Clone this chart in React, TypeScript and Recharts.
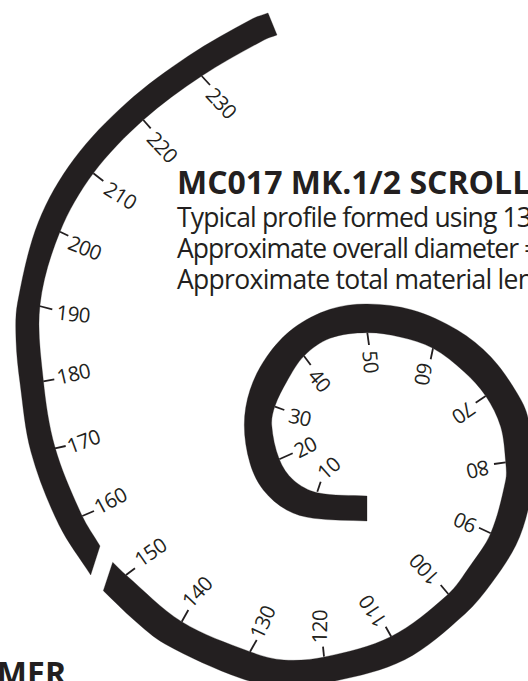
import React from "react";
import { ComposedChart, Line, Scatter, XAxis, YAxis } from "recharts";

const INK = "#231f20";
const W = 528;
const H = 681;

// Outline of the band's long piece: concave edge from the inner end to the cut, then convex edge back.
const lowerX = [367,317.3,293.3,279.3,271.7,275,286.7,304,330,366.7,400,433,464,485.7,500.7,505.7,505.7,490.7,470,447.3,390.7,325.7,284,250,181.7,126,112.7,103.3,134,165,240.8,283,330.4,404.7,465.2,492,516,528,533,528,517,490.7,457.3,412.3,367.3,330,293.3,266.7,250,244.3,250,263.3,286.7,313.3,367,367];
const lowerY = [496,492.7,480,459.3,425,406,381.7,356,338.3,332.7,337,348.3,371.7,396,426.7,462.3,480,533.3,566,595,636.7,656.7,660,651.7,621.7,575,562.3,590.7,620,644,678.3,686,682,659.7,613.7,582.5,545,510,475,418,393,356.7,330,310,304,309.3,328.3,356.7,390,425,463.3,490,510,518.3,521,496];
// Outline of the outer piece: concave edge from the cut to the far end, then convex edge back.
const upperX = [100,81.7,55,43.3,40,60,93.3,143.3,201.7,264,277,268,252,188.3,126.7,74,38.4,17.5,16,20,31,59,90.7,100];
const upperY = [546,515,447.3,380,305,231.7,173.3,120,76,40,35,13,19,56,102.7,159,222,303,340,383,452,525,575,546];

const tickValues = [10,20,30,40,50,60,70,80,90,100,110,120,130,140,150,160,170,180,190,200,210,220,230];
const tickX0 = [317.3,279.3,275,304,367.3,433,485.7,505.7,490.7,448.3,391.3,324,250,181.7,126,82.3,55,43.3,39.3,60,93.3,143.3,201.7];
const tickY0 = [491.7,459.3,406.7,356,332.7,348.3,396,462.3,533.3,594,636.7,656.7,651.7,621.7,575,516,448.3,381.3,306,231.7,173.3,120,76];
const tickX1 = [320.7,292.7,284.3,310.7,369,430.7,475.7,494,479,440.7,385.7,323,256.7,188.3,135,94,65.7,54.3,52.3,68.3,103.3,150.7,210];
const tickY1 = [481.7,453.3,410,365,345,359.3,402.7,464,527.7,585,626.7,646.7,640,610,568.3,511,446,379.3,309.3,235.7,181,128.3,85];
const labelX = [328.3,305,300,320,371.3,424,464,478,465,424,372.3,319,262,196.7,150,110,83.3,73.3,73.3,85,120.7,162.7,221.7];
const labelY = [467.7,446.7,416.7,380,361.7,374,413.3,470,523.3,570,611.7,626.7,622,591.7,551.7,500,440.7,373.3,313.3,247.3,195,146.7,102.7];
const labelAngle = [-42,-27,12,50,85,100,145,167,-156,-132,-123,-89,-65,-47,-35,-28,-20,-13,6,22,32,47,47];

const titleText = ["MC017 MK.1/2 SCROLL", "Typical profile formed using 13", "Approximate overall diameter =", "Approximate total material leng", "MER"];
const titleX = [177, 177, 177, 177, 66];
const titleY = [194, 227, 258, 289, 685];
const titleBold = [true, false, false, false, true];
const titleAnchor = ["start", "start", "start", "start", "end"];
const titleSpacing = [0, -0.85, -1, -0.7, 0];

const toPoints = (xs: number[], ys: number[]) => xs.map((x, i) => ({ x, y: ys[i] }));
const labelData = tickValues.map((v, i) => ({ x: labelX[i], y: labelY[i], text: String(v), angle: labelAngle[i] }));
const titleData = titleText.map((text, i) => ({ x: titleX[i], y: titleY[i], text, bold: titleBold[i], anchor: titleAnchor[i], spacing: titleSpacing[i] }));

// A d3-style curve: smooth through the points, sharp at the corners of the outline.
const smoothOutline = (ctx: any) => {
  let pts: number[][] = [];
  return {
    areaStart() {},
    areaEnd() {},
    lineStart() { pts = []; },
    point(x: number, y: number) { pts.push([x, y]); },
    lineEnd() {
      const n = pts.length;
      const seg = (a: number[], b: number[]) => [b[0] - a[0], b[1] - a[1]];
      const len = (v: number[]) => Math.hypot(v[0], v[1]) || 1;
      const isCorner = (i: number) => {
        if (i === 0 || i === n - 1) return true;
        const u = seg(pts[i - 1], pts[i]);
        const v = seg(pts[i], pts[i + 1]);
        return (u[0] * v[0] + u[1] * v[1]) / (len(u) * len(v)) < 0.6;
      };
      const tangent = (i: number, side: number) => {
        if (isCorner(i)) {
          const v = side > 0 ? seg(pts[i], pts[Math.min(i + 1, n - 1)]) : seg(pts[Math.max(i - 1, 0)], pts[i]);
          return [v[0] / len(v), v[1] / len(v)];
        }
        const v = seg(pts[i - 1], pts[i + 1]);
        return [v[0] / len(v), v[1] / len(v)];
      };
      ctx.moveTo(pts[0][0], pts[0][1]);
      for (let i = 0; i < n - 1; i++) {
        const d = len(seg(pts[i], pts[i + 1])) / 3;
        const t0 = tangent(i, 1);
        const t1 = tangent(i + 1, -1);
        ctx.bezierCurveTo(pts[i][0] + t0[0] * d, pts[i][1] + t0[1] * d, pts[i + 1][0] - t1[0] * d, pts[i + 1][1] - t1[1] * d, pts[i + 1][0], pts[i + 1][1]);
      }
      ctx.closePath();
    },
  };
};

const TickLabel = (p: any) => (
  <text
    x={p.cx}
    y={p.cy}
    transform={`rotate(${p.payload.angle} ${p.cx} ${p.cy})`}
    textAnchor="middle"
    dominantBaseline="central"
    fontFamily="'Open Sans', sans-serif"
    fontSize={20.5}
    letterSpacing={-0.6}
    fill={INK}
  >
    {p.payload.text}
  </text>
);

const TitleText = (p: any) => (
  <text
    x={p.cx}
    y={p.cy}
    textAnchor={p.payload.anchor}
    fontFamily="'Open Sans', sans-serif"
    fontWeight={p.payload.bold ? 700 : 400}
    fontSize={p.payload.bold ? 32 : 26.5}
    letterSpacing={p.payload.spacing}
    fill={INK}
  >
    {p.payload.text}
  </text>
);

export default function App() {
  return (
    <div style={{ position: "fixed", left: 0, top: 0, width: W, height: H, overflow: "hidden", background: "#fff" }}>
      <style>{`.spiral-band .recharts-line-curve { fill: ${INK}; }`}</style>
      <ComposedChart width={W} height={H} margin={{ top: 0, right: 0, bottom: 0, left: 0 }}>
        <XAxis type="number" dataKey="x" domain={[0, W]} hide allowDataOverflow />
        <YAxis type="number" dataKey="y" domain={[0, H]} reversed hide allowDataOverflow />
        <Line className="spiral-band" data={toPoints(lowerX, lowerY)} dataKey="y" type={smoothOutline as any} stroke={INK} strokeWidth={0.3} dot={false} activeDot={false} isAnimationActive={false} />
        <Line className="spiral-band" data={toPoints(upperX, upperY)} dataKey="y" type={smoothOutline as any} stroke={INK} strokeWidth={0.3} dot={false} activeDot={false} isAnimationActive={false} />
        {tickValues.map((v, i) => (
          <Line
            key={`tick-${v}`}
            data={[{ x: tickX0[i], y: tickY0[i] }, { x: tickX1[i], y: tickY1[i] }]}
            dataKey="y"
            type="linear"
            stroke={INK}
            strokeWidth={1.8}
            dot={false}
            activeDot={false}
            isAnimationActive={false}
          />
        ))}
        <Scatter data={labelData} dataKey="y" shape={TickLabel} isAnimationActive={false} />
        <Scatter data={titleData} dataKey="y" shape={TitleText} isAnimationActive={false} />
      </ComposedChart>
    </div>
  );
}
